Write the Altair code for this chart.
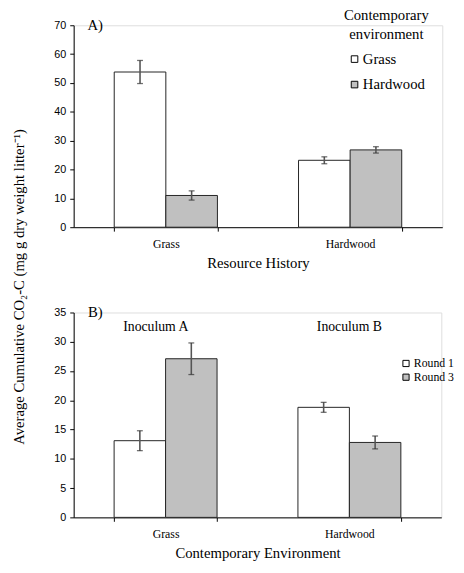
import altair as alt
import pandas as pd

SERIF = "Liberation Serif"
SANS = "Liberation Sans"

# ---- Panel A data ----
history_a = ["Grass", "Grass", "Hardwood", "Hardwood"]
env_a = ["Grass", "Hardwood", "Grass", "Hardwood"]
co2_a = [53.8, 11.0, 23.2, 26.8]
err_a = [4.0, 1.6, 1.2, 1.1]

# ---- Panel B data ----
env_b = ["Grass", "Grass", "Hardwood", "Hardwood"]
round_b = ["Round 1", "Round 3", "Round 1", "Round 3"]
co2_b = [13.1, 27.1, 18.8, 12.8]
err_b = [1.7, 2.7, 0.85, 1.1]

inoc_labels = ["Inoculum A", "Inoculum B"]
inoc_env = ["Grass", "Hardwood"]
inoc_y = [32.5, 32.5]

y_title = "Average Cumulative CO\u2082-C (mg g dry weight litter\u207b\u00b9)"

df_a = pd.DataFrame({"cat": history_a, "grp": env_a, "val": co2_a, "err": err_a})
df_b = pd.DataFrame({"cat": env_b, "grp": round_b, "val": co2_b, "err": err_b})
for d in (df_a, df_b):
    d["lo"] = d["val"] - d["err"]
    d["hi"] = d["val"] + d["err"]


def make_axes(ymax, ystep, xtitle):
    xscale = alt.Scale(paddingInner=0.44, paddingOuter=0.22)
    xaxis = alt.Axis(title=xtitle, labelAngle=0, tickBand="extent",
                     ticks=True, tickSize=4, labelPadding=8,
                     labelFont=SERIF, labelFontSize=12, labelColor="black",
                     titleFont=SERIF, titleFontSize=15, titleFontWeight="normal",
                     titleColor="black", titlePadding=6,
                     domainColor="black", tickColor="black")
    yscale = alt.Scale(domain=[0, ymax], nice=False)
    yaxis = alt.Axis(values=list(range(0, ymax + 1, ystep)), grid=False, title=None,
                     tickSize=4, labelPadding=4, labelFont=SANS, labelFontSize=11,
                     labelColor="black", domainColor="black", tickColor="black",
                     labelOverlap=False)
    return xscale, xaxis, yscale, yaxis


def panel(df, width, height, axes, grp_domain, legend, extra):
    xscale, xaxis, yscale, yaxis = axes
    oscale = alt.Scale(domain=grp_domain, paddingInner=0, paddingOuter=0)

    def X():
        return alt.X("cat:N", sort=None, scale=xscale, axis=xaxis)

    def XO():
        return alt.XOffset("grp:N", scale=oscale)

    base = alt.Chart(df)
    bars = base.mark_bar(stroke="#222222", strokeWidth=1,
                         width=alt.RelativeBandSize(1)).encode(
        x=X(), xOffset=XO(),
        y=alt.Y("val:Q", scale=yscale, axis=yaxis),
        fill=alt.Fill("grp:N", scale=alt.Scale(domain=grp_domain, range=["white", "#c0c0c0"]),
                      legend=legend))
    rules = base.mark_rule(color="#555555", strokeWidth=1.6).encode(
        x=X(), xOffset=XO(),
        y=alt.Y("lo:Q", scale=yscale, axis=yaxis), y2="hi:Q")
    caps = base.transform_fold(["lo", "hi"], as_=["end", "ev"]).mark_tick(
        color="#333333", size=6, thickness=1.3, orient="horizontal").encode(
        x=X(), xOffset=XO(),
        y=alt.Y("ev:Q", scale=yscale, axis=yaxis))
    return alt.layer(bars, rules, caps, *extra).properties(width=width, height=height)


legend_a = alt.Legend(title=["Contemporary", "environment"], orient="none",
                      legendX=276, legendY=-17, padding=0, symbolType="square", symbolSize=45,
                      symbolStrokeColor="black", symbolStrokeWidth=1,
                      labelFont=SERIF, labelFontSize=15, labelColor="black", labelOffset=1,
                      titleFont=SERIF, titleFontSize=15, titleFontWeight="normal",
                      titleColor="black", titleAnchor="middle", titleAlign="center",
                      titleLineHeight=19, titlePadding=10, rowPadding=10)
legend_b = alt.Legend(title=None, orient="none", legendX=333, legendY=46, padding=0,
                      symbolType="square", symbolSize=40,
                      symbolStrokeColor="black", symbolStrokeWidth=1,
                      labelFont=SERIF, labelFontSize=12, labelColor="black", labelOffset=2,
                      rowPadding=2)

# ---- top panel ----
axes_a = make_axes(70, 10, "Resource History")
ytxt = alt.Chart(pd.DataFrame({"t": [y_title]})).mark_text(
    angle=270, font=SERIF, fontSize=15, align="center", baseline="middle", color="black"
).encode(x=alt.value(-56), y=alt.value(267), text="t:N")
a_lab = alt.Chart(pd.DataFrame({"t": ["A)"]})).mark_text(
    font=SERIF, fontSize=15, align="center", baseline="middle", color="black"
).encode(x=alt.value(22), y=alt.value(0), text="t:N")
top = panel(df_a, 376, 206, axes_a, ["Grass", "Hardwood"], legend_a, [ytxt, a_lab])

# ---- bottom panel ----
axes_b = make_axes(35, 5, "Contemporary Environment")
df_inoc = pd.DataFrame({"cat": inoc_env, "t": inoc_labels, "yv": inoc_y})
inoc_layers = []
for lab, dx in zip(inoc_labels, [-10, 0]):
    inoc_layers.append(
        alt.Chart(df_inoc).transform_filter(alt.datum.t == lab).mark_text(
            font=SERIF, fontSize=14, align="center", baseline="middle", color="black", dx=dx
        ).encode(x=alt.X("cat:N", sort=None, scale=axes_b[0], axis=axes_b[1]),
                 y=alt.Y("yv:Q", scale=axes_b[2], axis=axes_b[3]), text="t:N"))
b_lab = alt.Chart(pd.DataFrame({"t": ["B)"]})).mark_text(
    font=SERIF, fontSize=15, align="center", baseline="middle", color="black"
).encode(x=alt.value(22), y=alt.value(0), text="t:N")
bottom = panel(df_b, 375, 209, axes_b, ["Round 1", "Round 3"], legend_b, inoc_layers + [b_lab])

chart = alt.vconcat(top, bottom, spacing=87, bounds="flush").resolve_scale(
    fill="independent", xOffset="independent"
).properties(
    padding={"left": 3, "top": -6, "right": 0, "bottom": 0}
).configure_view(stroke="transparent").configure(background="white")

chart.save("out.html", embed_options={"renderer": "svg", "actions": False})
